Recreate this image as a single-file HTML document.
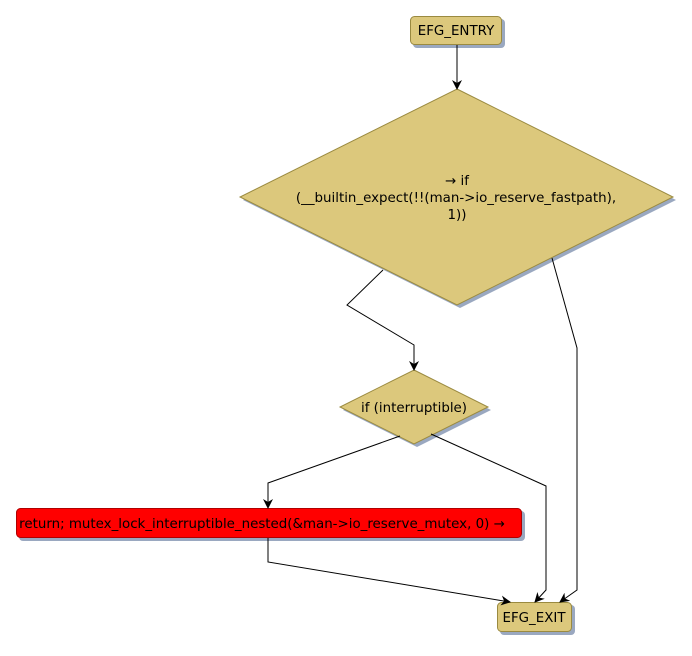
<!DOCTYPE html>
<html><head><meta charset="utf-8"><style>
body{margin:0;background:#fff;}
svg text{font-family:"DejaVu Sans","Liberation Sans",sans-serif;font-size:13.4px;fill:#000;}
</style></head><body>
<svg width="692" height="651" viewBox="0 0 692 651" xmlns="http://www.w3.org/2000/svg">
<defs>
<marker id="a" markerWidth="10" markerHeight="10" refX="9" refY="5" orient="auto" markerUnits="userSpaceOnUse">
<path d="M0,0 L10,5 L0,10 L3,5 Z" fill="#000"/>
</marker>
</defs>
<rect x="413" y="19" width="92" height="29" rx="4" fill="#9aa8c0"/>
<polygon points="460,92 676,200 460,308 243,200" fill="#9aa8c0"/>
<polygon points="417,373 491,410 417,447 343,410" fill="#9aa8c0"/>
<rect x="19" y="511" width="506" height="30" rx="4" fill="#9aa8c0"/>
<rect x="500" y="605" width="75" height="30" rx="4" fill="#9aa8c0"/>
<rect x="410.5" y="16.5" width="91" height="28" rx="4" fill="#dcc87c" stroke="#9a8a40"/>
<text x="456" y="35" text-anchor="middle">EFG_ENTRY</text>
<polygon points="457,89 673,197 457,305 240,197" fill="#dcc87c" stroke="#9a8a40"/>
<text x="457" y="185" text-anchor="middle">→ if</text>
<text x="456" y="202" text-anchor="middle">(__builtin_expect(!!(man-&gt;io_reserve_fastpath),</text>
<text x="457" y="219" text-anchor="middle">1))</text>
<polygon points="414,370 488,407 414,444 340,407" fill="#dcc87c" stroke="#9a8a40"/>
<text x="414" y="412" text-anchor="middle">if (interruptible)</text>
<rect x="16.5" y="508.5" width="505" height="29" rx="4" fill="#ff0000" stroke="#b00000"/>
<text x="262" y="528" text-anchor="middle">return; mutex_lock_interruptible_nested(&amp;man-&gt;io_reserve_mutex, 0) →</text>
<rect x="497.5" y="602.5" width="74" height="29" rx="4" fill="#dcc87c" stroke="#9a8a40"/>
<text x="534" y="622" text-anchor="middle">EFG_EXIT</text>
<g fill="none" stroke="#000" stroke-width="1">
<path d="M457,45 L457,89" marker-end="url(#a)"/>
<path d="M383,270 L347,305 L414,345 L414,370" marker-end="url(#a)"/>
<path d="M552,258 L577,348 L577,590 L560,602" marker-end="url(#a)"/>
<path d="M400,436 L268,483 L268,508" marker-end="url(#a)"/>
<path d="M431,434 L546,486 L546,590 L535,602" marker-end="url(#a)"/>
<path d="M268,538 L268,562 L510,602" marker-end="url(#a)"/>
</g>
</svg>
</body></html>
